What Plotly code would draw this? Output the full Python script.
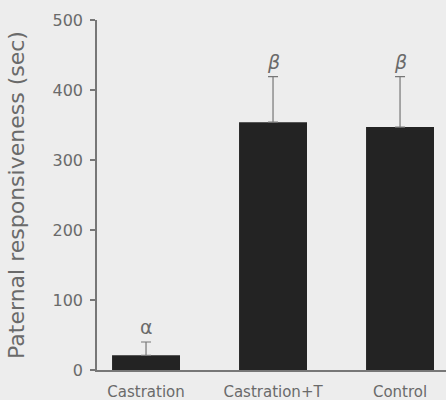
import plotly.graph_objects as go

categories = ["Castration", "Castration+T", "Control"]
means = [21, 354, 347]
errors_up = [19, 65, 72]
letters = ["α", "<i>β</i>", "<i>β</i>"]

bg = "#ededed"
ink = "#6a6a6a"
bar_col = "#232323"
fam = "DejaVu Sans, Arial, sans-serif"

fig = go.Figure()
fig.add_trace(go.Bar(
    x=categories, y=means, width=0.535,
    marker=dict(color=bar_col, line=dict(width=0)),
    error_y=dict(type="data", symmetric=False, array=errors_up,
                 arrayminus=[0, 0, 0], color="#777777", thickness=1.2, width=5),
))

for c, m, e, l in zip(categories, means, errors_up, letters):
    fig.add_annotation(x=c, y=m + e, text=l, showarrow=False, yanchor="bottom",
                       yshift=2, font=dict(size=19, color=ink, family=fam))

fig.update_layout(
    width=446, height=400,
    margin=dict(l=97, r=0, t=20, b=30),
    paper_bgcolor=bg, plot_bgcolor=bg,
    showlegend=False,
    font=dict(family=fam, color=ink),
    xaxis=dict(range=[-0.386, 2.362], showline=True, linecolor="#777777",
               linewidth=1.5, ticks="", showgrid=False, zeroline=False,
               tickfont=dict(size=15, color=ink, family=fam), ticklabelstandoff=7),
    yaxis=dict(range=[0, 500], tickvals=[0, 100, 200, 300, 400, 500],
               showline=True, linecolor="#777777", linewidth=1.5,
               ticks="outside", ticklen=5, tickcolor="#777777", tickwidth=1.5,
               showgrid=False, zeroline=False,
               tickfont=dict(size=16, color=ink, family=fam),
               ticklabelstandoff=4,
               title=dict(text="Paternal responsiveness (sec)",
                          font=dict(size=22, color=ink, family=fam), standoff=22)),
)

fig.write_html("out.html", config={"displayModeBar": False},
               post_script="document.body.style.margin='0';document.body.style.overflow='hidden';")
